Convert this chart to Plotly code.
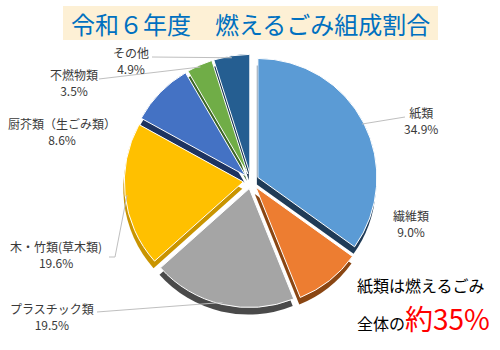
import math
import plotly.graph_objects as go

# 令和6年度 燃えるごみ組成割合 (%)
categories = ["紙類", "繊維類", "プラスチック類", "木・竹類(草木類)",
              "厨芥類（生ごみ類）", "不燃物類", "その他"]
shares = [34.9, 9.0, 19.5, 19.6, 8.6, 3.5, 4.9]

face_colors = ["#5B9BD5", "#ED7D31", "#A5A5A5", "#FFC000",
               "#4472C4", "#70AD47", "#255E91"]
side_colors = ["#1F3B57", "#8A4613", "#4A4A4A", "#C99400",
               "#1E3461", "#3C6626", "#15324F"]

W, H = 500, 350
CX, CY = 251, 181          # pie centre, px
R = 119                    # pie radius, px
PULL = 0.065               # explode fraction of radius
DEPTH = 7                  # px, thickness of the side band

box = 2 * R * (1 + PULL)


def domain(dx=0.0, dy=0.0):
    x0 = (CX + dx - box / 2) / W
    y0 = 1 - (CY + dy + box / 2) / H
    return dict(x=[x0, x0 + box / W], y=[y0, y0 + box / H])


fig = go.Figure()

# darker copy below gives the slices a little thickness
fig.add_trace(go.Pie(
    labels=categories, values=shares, sort=False, direction="clockwise",
    rotation=0, pull=[PULL] * len(shares), textinfo="none",
    hoverinfo="skip", showlegend=False,
    marker=dict(colors=side_colors, line=dict(color="rgba(0,0,0,0)", width=0)),
    domain=domain(-1, DEPTH),
))
fig.add_trace(go.Pie(
    labels=categories, values=shares, sort=False, direction="clockwise",
    rotation=0, pull=[PULL] * len(shares), textinfo="none",
    showlegend=False,
    marker=dict(colors=face_colors, line=dict(color="white", width=1)),
    domain=domain(),
))

# label block centres and leader-line elbows (px)
label_pos = {
    "紙類": (421, 121),
    "繊維類": (411, 223),
    "プラスチック類": (52, 316),
    "木・竹類(草木類)": (56, 254),
    "厨芥類（生ごみ類）": (62, 131),
    "不燃物類": (74, 82),
    "その他": (131, 60),
}
leader_to = {
    "紙類": [(405, 117)],
    "プラスチック類": [(97, 312)],
    "木・竹類(草木類)": [(115, 257), (109, 257)],
    "不燃物類": [(99, 79)],
    "その他": [(152, 57)],
}

text_font = dict(family="Noto Sans CJK JP", size=12, color="#3A3A3A")
annotations = []
shapes = []


def px(x, y):
    return x / W, 1 - y / H


total = sum(shares)
cum = 0.0
for name, v in zip(categories, shares):
    mid = (cum + v / 2) / total * 2 * math.pi
    cum += v
    lx, ly = label_pos[name]
    ax_, ay_ = px(lx, ly)
    annotations.append(dict(
        x=ax_, y=ay_, xref="paper", yref="paper", showarrow=False,
        text=f"{name}<br>{v:.1f}%", font=text_font, align="center",
        xanchor="center", yanchor="middle",
    ))
    if name in leader_to:
        rr = R * (1 + PULL) - 2
        ex = CX + rr * math.sin(mid)
        ey = CY - rr * math.cos(mid)
        pts = [(ex, ey)] + leader_to[name]
        path = "M " + " L ".join(f"{px(x, y)[0]:.4f},{px(x, y)[1]:.4f}" for x, y in pts)
        shapes.append(dict(type="path", xref="paper", yref="paper", path=path,
                           line=dict(color="#BFBFBF", width=1), layer="above"))

# title box
shapes.append(dict(type="rect", xref="paper", yref="paper",
                   x0=63 / W, x1=438 / W, y0=1 - 40 / H, y1=1 - 6 / H,
                   fillcolor="#FDF0D5", line=dict(width=0), layer="below"))
annotations.append(dict(
    x=250.5 / W, y=1 - 23.5 / H, xref="paper", yref="paper", showarrow=False,
    text="令和６年度　燃えるごみ組成割合",
    font=dict(family="Noto Sans CJK JP", size=24, color="#0070C0"),
    xanchor="center", yanchor="middle",
))

# callout on the paper share
paper_share = round(shares[0])
annotations.append(dict(
    x=355 / W, y=1 - 285 / H, xref="paper", yref="paper", showarrow=False,
    text="紙類は燃えるごみ",
    font=dict(family="Noto Sans CJK JP", size=16, color="#000000"),
    xanchor="left", yanchor="middle",
))
annotations.append(dict(
    x=355 / W, y=1 - 340 / H, xref="paper", yref="paper", showarrow=False,
    text=f"全体の<span style='font-size:28px;color:#FF0000'>約{paper_share}%</span>",
    font=dict(family="Noto Sans CJK JP", size=16, color="#000000"),
    xanchor="left", yanchor="bottom",
))

fig.update_layout(
    width=W, height=H, margin=dict(l=0, r=0, t=0, b=0),
    paper_bgcolor="white", plot_bgcolor="white",
    annotations=annotations, shapes=shapes, showlegend=False,
)

fig.write_html("out.html")
